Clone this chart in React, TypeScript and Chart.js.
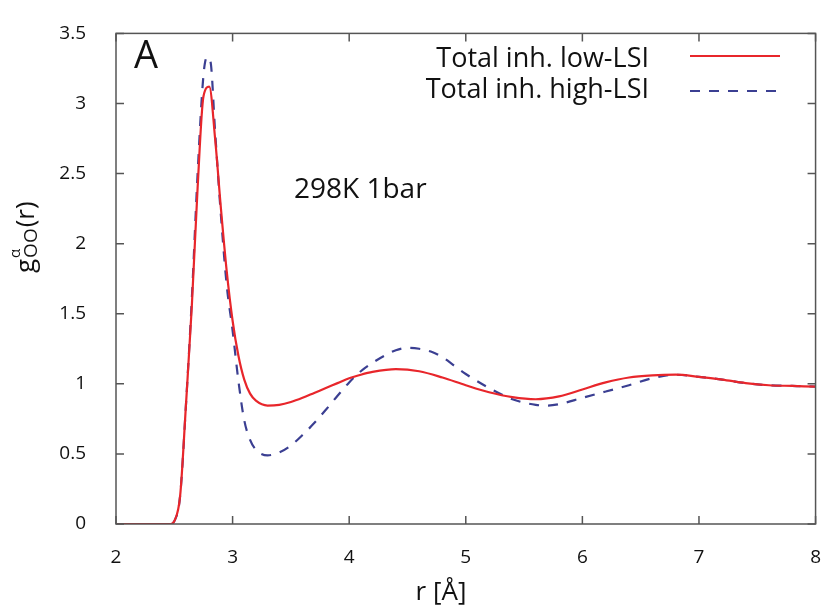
import React, { useEffect, useRef } from "react";
import { Chart, registerables } from "chart.js";

Chart.register(...registerables);

// ---- data ----
const rLow = [2.0, 2.3, 2.47, 2.5, 2.55, 2.6, 2.65, 2.7, 2.75, 2.8, 2.85, 2.9, 2.95, 3.0, 3.05, 3.1, 3.15, 3.2, 3.3, 3.4, 3.5, 3.6, 3.7, 3.8, 3.9, 4.0, 4.1, 4.2, 4.4, 4.6, 4.8, 5.0, 5.2, 5.4, 5.6, 5.8, 6.0, 6.2, 6.4, 6.6, 6.8, 7.0, 7.2, 7.4, 7.6, 7.8, 8.0];
const gLow = [0, 0, 0, 0.02, 0.2, 0.85, 1.55, 2.4, 3.05, 3.12, 2.75, 2.25, 1.8, 1.45, 1.2, 1.03, 0.93, 0.88, 0.845, 0.85, 0.87, 0.9, 0.935, 0.97, 1.005, 1.04, 1.065, 1.085, 1.105, 1.09, 1.045, 0.99, 0.94, 0.905, 0.89, 0.91, 0.96, 1.01, 1.045, 1.06, 1.065, 1.05, 1.03, 1.005, 0.99, 0.985, 0.98];

const rHigh = [2.0, 2.47, 2.5, 2.55, 2.6, 2.65, 2.7, 2.75, 2.78, 2.81, 2.85, 2.9, 2.95, 3.0, 3.05, 3.1, 3.15, 3.2, 3.3, 3.4, 3.5, 3.6, 3.7, 3.8, 3.9, 4.0, 4.1, 4.2, 4.3, 4.4, 4.5, 4.6, 4.7, 4.8, 4.9, 5.0, 5.2, 5.4, 5.6, 5.7, 5.8, 6.0, 6.2, 6.4, 6.6, 6.8, 7.0, 7.2, 7.4, 7.6, 7.8, 8.0];
const gHigh = [0, 0, 0.02, 0.2, 0.85, 1.6, 2.5, 3.2, 3.33, 3.3, 2.8, 2.2, 1.7, 1.38, 1.02, 0.74, 0.6, 0.53, 0.49, 0.51, 0.56, 0.635, 0.72, 0.815, 0.915, 1.01, 1.09, 1.15, 1.2, 1.24, 1.257, 1.25, 1.23, 1.19, 1.13, 1.07, 0.97, 0.89, 0.85, 0.845, 0.855, 0.9, 0.945, 0.99, 1.04, 1.065, 1.05, 1.03, 1.005, 0.99, 0.985, 0.98];

const xTicks = [2, 3, 4, 5, 6, 7, 8];
const yTicks = [0, 0.5, 1, 1.5, 2, 2.5, 3, 3.5];

const seriesLabels = ["Total inh. low-LSI", "Total inh. high-LSI"];
const panelLabel = "A";
const conditionLabel = "298K 1bar";

const RED = "#e8262b";
const BLUE = "#3b3f92";
const FRAME = "#555555";
const FONT = "'Open Sans', 'DejaVu Sans', sans-serif";

const toPts = (xs: number[], ys: number[]) => xs.map((x, i) => ({ x, y: ys[i] }));

const decorPlugin = {
  id: "decor",
  afterDraw(chart: any) {
    const ctx: CanvasRenderingContext2D = chart.ctx;
    const { left, right, top, bottom } = chart.chartArea;
    const xs = chart.scales.x;
    const ys = chart.scales.y;
    ctx.save();
    // frame
    ctx.strokeStyle = FRAME;
    ctx.lineWidth = 1.5;
    ctx.strokeRect(left, top, right - left, bottom - top);
    // inward ticks, mirrored
    const tl = 8;
    ctx.beginPath();
    xTicks.forEach((v) => {
      const px = xs.getPixelForValue(v);
      ctx.moveTo(px, bottom);
      ctx.lineTo(px, bottom - tl);
      ctx.moveTo(px, top);
      ctx.lineTo(px, top + tl);
    });
    yTicks.forEach((v) => {
      const py = ys.getPixelForValue(v);
      ctx.moveTo(left, py);
      ctx.lineTo(left + tl, py);
      ctx.moveTo(right, py);
      ctx.lineTo(right - tl, py);
    });
    ctx.stroke();

    ctx.fillStyle = "#111";
    ctx.textBaseline = "alphabetic";
    // panel label
    ctx.font = `38px ${FONT}`;
    ctx.textAlign = "left";
    ctx.fillText(panelLabel, 134, 68);
    // condition label
    ctx.font = `28px ${FONT}`;
    ctx.fillText(conditionLabel, 294, 198);

    // legend
    ctx.font = `27px ${FONT}`;
    ctx.textAlign = "right";
    ctx.fillText(seriesLabels[0], 649, 67);
    ctx.fillText(seriesLabels[1], 649, 98);
    ctx.lineWidth = 2.2;
    ctx.strokeStyle = RED;
    ctx.beginPath();
    ctx.moveTo(690, 56);
    ctx.lineTo(780, 56);
    ctx.stroke();
    ctx.strokeStyle = BLUE;
    ctx.setLineDash([10, 9]);
    ctx.beginPath();
    ctx.moveTo(690, 91);
    ctx.lineTo(780, 91);
    ctx.stroke();
    ctx.setLineDash([]);

    // x title
    ctx.fillStyle = "#111";
    ctx.font = `26px ${FONT}`;
    ctx.textAlign = "center";
    ctx.fillText("r [Å]", 441, 600);

    // y title: g^α_OO(r), rotated
    ctx.save();
    ctx.translate(34, 273);
    ctx.rotate(-Math.PI / 2);
    ctx.textAlign = "left";
    let x = 0;
    ctx.font = `26px ${FONT}`;
    ctx.fillText("g", x, 0);
    x += ctx.measureText("g").width + 1;
    ctx.font = `15px ${FONT}`;
    ctx.fillText("α", x, -14);
    ctx.font = `19px ${FONT}`;
    ctx.fillText("OO", x, 3);
    x += ctx.measureText("OO").width + 1;
    ctx.font = `26px ${FONT}`;
    ctx.fillText("(r)", x, 0);
    ctx.restore();

    ctx.restore();
  },
};

export default function App() {
  const ref = useRef<HTMLCanvasElement>(null);
  useEffect(() => {
    document.body.style.margin = "0";
    const canvas = ref.current;
    if (!canvas) return;
    const chart = new Chart(canvas, {
      type: "line",
      data: {
        datasets: [
          {
            label: seriesLabels[0],
            data: toPts(rLow, gLow),
            borderColor: RED,
            backgroundColor: RED,
            borderWidth: 2.2,
            pointRadius: 0,
            cubicInterpolationMode: "monotone",
            fill: false,
          },
          {
            label: seriesLabels[1],
            data: toPts(rHigh, gHigh),
            borderColor: BLUE,
            backgroundColor: BLUE,
            borderWidth: 2.2,
            borderDash: [10, 9],
            pointRadius: 0,
            cubicInterpolationMode: "monotone",
            fill: false,
          },
        ],
      },
      options: {
        responsive: false,
        animation: false,
        devicePixelRatio: 1,
        layout: { padding: { left: 0, right: 10, top: 17, bottom: 0 } },
        plugins: {
          legend: { display: false },
          tooltip: { enabled: false },
          title: { display: false },
        },
        scales: {
          x: {
            type: "linear",
            min: 2,
            max: 8,
            afterBuildTicks: (s: any) => {
              s.ticks = xTicks.map((v) => ({ value: v }));
            },
            afterFit: (s: any) => {
              s.height = 91;
            },
            grid: { display: false },
            border: { display: false },
            ticks: {
              padding: 14,
              color: "#111",
              font: { family: FONT, size: 19 },
              maxRotation: 0,
              callback: (v: any) => String(v),
            },
          },
          y: {
            type: "linear",
            min: 0,
            max: 3.5,
            afterBuildTicks: (s: any) => {
              s.ticks = yTicks.map((v) => ({ value: v }));
            },
            afterFit: (s: any) => {
              s.width = 116;
            },
            grid: { display: false },
            border: { display: false },
            ticks: {
              padding: 22,
              color: "#111",
              font: { family: FONT, size: 19 },
              callback: (v: any) => String(v),
            },
          },
        },
      },
      plugins: [decorPlugin],
    } as any);
    return () => chart.destroy();
  }, []);
  return (
    <div style={{ position: "absolute", left: 0, top: 0, width: 835, height: 615, background: "#fff" }}>
      <canvas ref={ref} width={835} height={615} style={{ width: 835, height: 615 }} />
    </div>
  );
}
